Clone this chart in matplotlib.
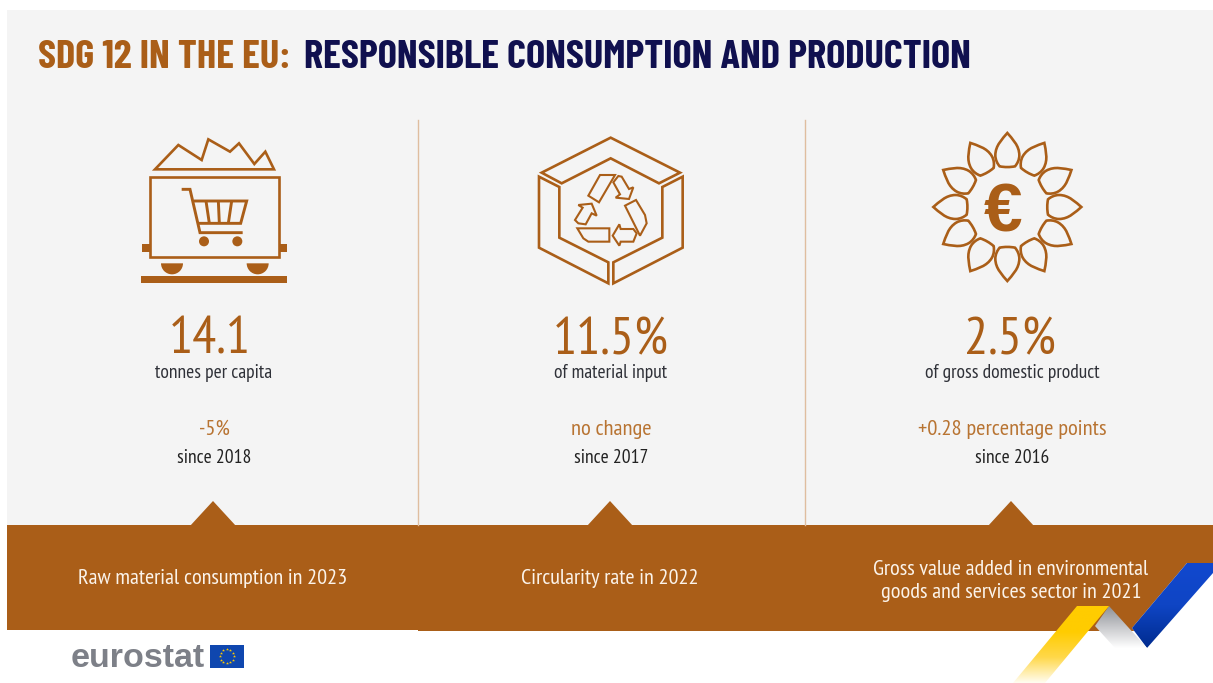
import numpy as np
import matplotlib
matplotlib.use("Agg")
import matplotlib.pyplot as plt
from matplotlib.colors import LinearSegmentedColormap
from matplotlib.patches import Polygon, Rectangle, Circle, Wedge, PathPatch
from matplotlib.path import Path

title_left = "SDG 12 IN THE EU:"
title_right = "RESPONSIBLE CONSUMPTION AND PRODUCTION"
values = ["14.1", "11.5%", "2.5%"]
units = ["tonnes per capita", "of material input", "of gross domestic product"]
changes = ["-5%", "no change", "+0.28 percentage points"]
periods = ["since 2018", "since 2017", "since 2016"]
captions = ["Raw material consumption in 2023", "Circularity rate in 2022",
            "Gross value added in environmental\ngoods and services sector in 2021"]

BROWN = "#aa5e18"
LIGHT_BROWN = "#b87432"
PANEL = "#f4f4f4"
NARROW = ["PT Sans Narrow", "Roboto"]
BOLD_NARROW = ["Barlow Condensed", "Roboto"]

col_x = [213, 610, 1011]
value_x = [210, 611, 1010]
caption_y = [578, 578, 581]


def line_shape(ax, pts, ox, oy, closed=False, lw=1.9):
    # icon outlines were laid out at 3x, scale them back down
    pts = np.array(pts, dtype=float) / 3 + [ox, oy]
    ax.add_patch(Polygon(pts, closed=closed, fill=False, edgecolor=BROWN, lw=lw, joinstyle="miter"))


def gradient(ax, pts, colors, top, bottom):
    cmap = LinearSegmentedColormap.from_list("ribbon", colors)
    xs = [p[0] for p in pts]
    im = ax.imshow(np.linspace(0, 1, 256).reshape(-1, 1), cmap=cmap, aspect="auto",
                   extent=(min(xs), max(xs), bottom, top), zorder=5)
    patch = Polygon(pts, closed=True, transform=ax.transData, fill=False, edgecolor="none")
    ax.add_patch(patch)
    im.set_clip_path(patch)


def wagon_icon(ax):
    ox, oy = 120, 120
    line_shape(ax, [(105, 148), (175, 75), (245, 120), (265, 58), (330, 95), (357, 70),
                    (403, 132), (436, 95), (462, 148)], ox, oy, closed=True)
    line_shape(ax, [(90, 172), (478, 172), (478, 410), (90, 410)], ox, oy, closed=True)
    for x0, x1, y0, y1 in [(66, 90, 373, 395), (478, 500, 373, 395), (64, 502, 468, 489)]:
        ax.add_patch(Rectangle((ox + x0 / 3, oy + y0 / 3), (x1 - x0) / 3, (y1 - y0) / 3,
                               color=BROWN, lw=0))
    for cx in [156, 413]:
        ax.add_patch(Wedge((ox + cx / 3, oy + 430 / 3), 33 / 3, 0, 180, color=BROWN, lw=0))
    # shopping cart
    line_shape(ax, [(185, 208), (210, 208), (240, 338), (368, 338)], ox, oy, lw=2.1)
    line_shape(ax, [(222, 243), (380, 243), (362, 310), (235, 310)], ox, oy, lw=2.1)
    for a, b in [((258, 243), (268, 310)), ((295, 243), (298, 310)), ((335, 243), (325, 310))]:
        line_shape(ax, [a, b], ox, oy, lw=2.1)
    for cx in [252, 352]:
        ax.add_patch(Circle((ox + cx / 3, oy + 364 / 3), 15 / 3, color=BROWN, lw=0))


def recycle_icon(ax):
    ox, oy = 520, 125
    line_shape(ax, [(272, 38), (480, 143), (417, 175), (272, 100), (125, 175), (65, 143)],
               ox, oy, closed=True)
    line_shape(ax, [(57, 155), (118, 186), (118, 338), (265, 412), (265, 475), (57, 368)],
               ox, oy, closed=True)
    line_shape(ax, [(488, 155), (427, 186), (427, 338), (280, 412), (280, 475), (488, 368)],
               ox, oy, closed=True)
    arrows = [
        [(240, 150), (285, 150), (237, 232), (205, 212)],
        [(280, 172), (295, 153), (305, 155), (327, 192), (340, 187), (327, 222), (287, 218), (300, 208)],
        [(315, 242), (348, 225), (375, 270), (380, 295), (360, 332)],
        [(298, 298), (302, 312), (340, 312), (350, 325), (340, 350), (302, 350), (298, 362), (278, 332)],
        [(172, 310), (268, 310), (268, 350), (205, 350), (190, 340)],
        [(175, 240), (215, 236), (230, 272), (215, 265), (197, 298), (175, 295), (165, 285), (188, 248)],
    ]
    for arrow in arrows:
        line_shape(ax, arrow, ox, oy, closed=True, lw=1.5)


def sun_icon(ax):
    cx, cy = 920 + 262 / 3, 125 + 246 / 3
    petal = np.array([(0, 222), (14, 205), (36, 185), (36, 155), (36, 142), (30, 130),
                      (23, 122), (8, 119), (-8, 119), (-23, 122), (-30, 130), (-36, 142),
                      (-36, 155), (-36, 185), (-14, 205), (0, 222), (0, 222)], dtype=float) / 3
    codes = [Path.MOVETO] + [Path.CURVE4] * 15 + [Path.CLOSEPOLY]
    for k in range(12):
        a = np.deg2rad(30 * k)
        rot = np.array([[np.cos(a), -np.sin(a)], [np.sin(a), np.cos(a)]])
        verts = petal @ rot.T * [1, -1] + [cx, cy]
        ax.add_patch(PathPatch(Path(verts, codes), fill=False, edgecolor=BROWN, lw=1.9, joinstyle="miter"))
    ax.text(cx - 4.5, 231.5, "€", color=BROWN, fontsize=50, fontweight="bold", ha="center", va="baseline",
            family=["Liberation Sans", "DejaVu Sans"])


def ribbon(ax):
    ax.add_patch(Polygon([(1187, 563), (1213, 563), (1213, 640), (1147, 648), (1132, 628)],
                         closed=True, color="white", lw=0, zorder=4))
    gradient(ax, [(1187, 563), (1213, 563), (1213, 573), (1147, 648), (1132, 628)],
             ["#1148cf", "#0f45c4", "#002b8e"], 563, 648)
    gradient(ax, [(1109, 606), (1095, 626), (1115, 648), (1147, 648)],
             ["#8e9196", "#c8c9cc", "#ffffff"], 606, 648)
    gradient(ax, [(1077, 606), (1109, 606), (1045, 683), (1013, 683)],
             ["#ffcc00", "#ffcc00", "#ffd84a", "#fffdf2"], 606, 683)


def main():
    fig = plt.figure(figsize=(12.13, 6.83), dpi=100, facecolor="white")
    ax = fig.add_axes([0, 0, 1, 1])
    ax.set_xlim(0, 1213)
    ax.set_ylim(683, 0)
    ax.axis("off")

    ax.add_patch(Rectangle((7, 10), 1206, 515, color=PANEL, lw=0))
    ax.add_patch(Rectangle((7, 525), 1206, 105, color=BROWN, lw=0))
    ax.add_patch(Rectangle((418, 525), 795, 106, color=BROWN, lw=0))
    for x in col_x:
        ax.add_patch(Polygon([(x - 23, 526), (x, 501), (x + 23, 526)], closed=True, color=BROWN, lw=0))
    for x in [418, 805]:
        ax.plot([x, x], [120, 525], color="#dfbd9f", lw=1)

    ax.text(38, 68, title_left, color=BROWN, fontsize=29.2, fontweight="bold",
            family=BOLD_NARROW, va="baseline")
    ax.text(304, 68, title_right, color="#10104f", fontsize=29.2, fontweight="bold",
            family=BOLD_NARROW, va="baseline")

    wagon_icon(ax)
    recycle_icon(ax)
    sun_icon(ax)

    for i in range(3):
        ax.text(value_x[i], 354, values[i], color=BROWN, fontsize=38.5, ha="center",
                va="baseline", family=NARROW)
        ax.text(col_x[i] + 1, 378, units[i], color="#2f3138", fontsize=14, ha="center",
                va="baseline", family=NARROW)
        ax.text(col_x[i] + 1, 435, changes[i], color=LIGHT_BROWN, fontsize=16.2, ha="center",
                va="baseline", family=NARROW)
        ax.text(col_x[i] + 1, 463, periods[i], color="#222222", fontsize=14, ha="center",
                va="baseline", family=NARROW)
        ax.text(col_x[i], caption_y[i], captions[i], color="#fbf3ea", fontsize=16, ha="center",
                va="center", family=NARROW, linespacing=1.3)

    ribbon(ax)

    # logo
    ax.text(71, 667, "eurostat", color="#7d8088", fontsize=24.5, fontweight="bold",
            family=["Liberation Sans", "DejaVu Sans"], va="baseline")
    ax.add_patch(Rectangle((210, 645), 33.5, 22.5, color="#0f47af", lw=0))
    angles = np.deg2rad(np.arange(0, 360, 30))
    ax.scatter(226.7 + 7 * np.cos(angles), 656.2 + 7 * np.sin(angles), marker="*", s=5,
               color="#ffcc00", linewidths=0)

    ax.set_xlim(0, 1213)
    ax.set_ylim(683, 0)
    fig.savefig("out.png", dpi=100)


if __name__ == "__main__":
    main()
